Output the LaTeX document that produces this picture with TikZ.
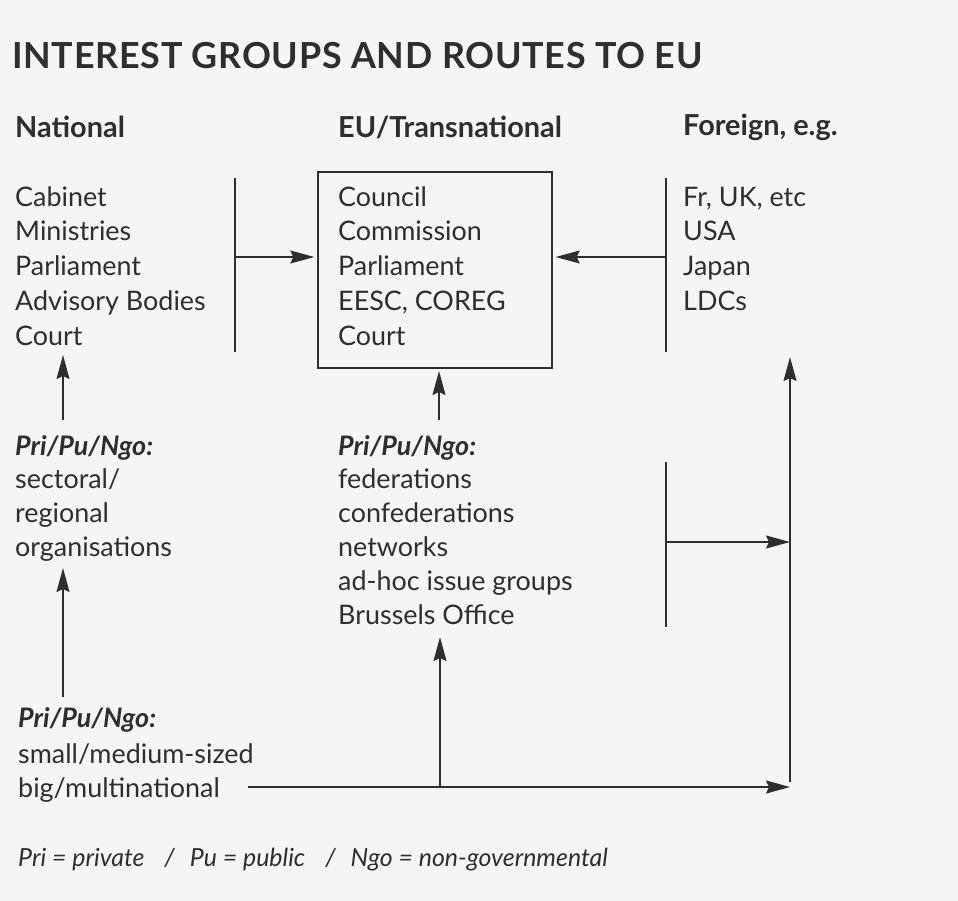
\documentclass[tikz,border=0pt]{standalone}
\usepackage{fontspec}
\setmainfont{Lato}
\usetikzlibrary{arrows.meta}
\definecolor{ink}{HTML}{2E2E2E}
\definecolor{paper}{HTML}{F5F5F3}
\tikzset{
  txt/.style={anchor=base west, inner sep=0pt, text=ink, font=\fontsize{27}{30}\selectfont},
  hdr/.style={txt, font=\fontsize{29}{32}\selectfont\bfseries},
  pri/.style={txt, font=\fontsize{27}{30}\selectfont\bfseries\itshape},
  note/.style={txt, font=\fontsize{25}{28}\selectfont\itshape},
  conn/.style={draw=ink, line width=1.4bp},
  arr/.style={conn, -{Stealth[length=24bp,width=13bp,inset=3bp]}},
  eubox/.style={draw=ink, line width=1.4bp, minimum width=234bp, minimum height=196bp, inner sep=0pt},
}
\begin{document}
\begin{tikzpicture}[x=1bp,y=-1bp]
\useasboundingbox[fill=paper] (0,0) rectangle (958,901);
% title and headers
\node[txt, font=\fontsize{36}{40}\selectfont\bfseries\addfontfeatures{LetterSpace=2}] (title) at (12,68) {INTEREST GROUPS AND ROUTES TO EU};
\node[hdr] (hnat) at (15,137) {National};
\node[hdr] (heu) at (338,137) {EU/Transnational};
\node[hdr] (hfor) at (683,135) {Foreign, e.g.};
% national column
\foreach \t [count=\i] in {Cabinet, Ministries, Parliament, Advisory Bodies, Court}
  \node[txt] (nat\i) at (15,{206+34.8*(\i-1)}) {\t};
% EU box
\node[eubox] (box) at (435,270) {};
\foreach \t [count=\i] in {Council, Commission, Parliament, {EESC, COREG}, Court}
  \node[txt] (eu\i) at (338,{206+34.8*(\i-1)}) {\t};
% foreign column
\foreach \t [count=\i] in {{Fr, UK, etc}, USA, Japan, LDCs}
  \node[txt] (for\i) at (683,{206+34.8*(\i-1)}) {\t};
% left lower group
\node[pri] (lpri) at (15,455) {Pri/Pu/Ngo:};
\foreach \t [count=\i] in {sectoral/, regional, organisations}
  \node[txt] (lg\i) at (15,{488+34*(\i-1)}) {\t};
% middle lower group
\node[pri] (mpri) at (338,455) {Pri/Pu/Ngo:};
\foreach \t [count=\i] in {federations, confederations, networks, ad-hoc issue groups, Brussels Office}
  \node[txt] (mg\i) at (338,{488+34*(\i-1)}) {\t};
% bottom group
\node[pri] (bpri) at (18,727) {Pri/Pu/Ngo:};
\node[txt] (bg1) at (18,763) {small/medium-sized};
\node[txt] (bg2) at (18,797) {big/multinational};
% footnote
\node[note] (fn) at (18,866) {Pri = private\hspace{20bp}/\hspace{15bp}Pu = public\hspace{20bp}/\hspace{15bp}Ngo = non-governmental};
% coordinates for connectors
\coordinate (lbT) at (235,178);
\coordinate (lbB) at (235,352);
\coordinate (lbM) at (235,257);
\coordinate (rbT) at (666,178);
\coordinate (rbB) at (666,352);
\coordinate (rbM) at (666,257);
\coordinate (a1s) at (63,420);
\coordinate (a1e) at (63,355);
\coordinate (a2s) at (439,420);
\coordinate (a2e) at (439,371);
\coordinate (a3s) at (63,697);
\coordinate (a3e) at (63,568);
\coordinate (hs) at (248,787);
\coordinate (he) at (790,787);
\coordinate (vs) at (440,787);
\coordinate (ve) at (440,637);
\coordinate (rvB) at (790,782);
\coordinate (rvT) at (790,357);
\coordinate (b2T) at (666,462);
\coordinate (b2B) at (666,627);
\coordinate (b2M) at (666,542);
% connectors
\draw[conn] (lbT) -- (lbB);
\draw[arr] (lbM) -- ([xshift=-3bp]box.west |- lbM);
\draw[conn] (rbT) -- (rbB);
\draw[arr] (rbM) -- ([xshift=3bp]box.east |- rbM);
\draw[arr] (a1s) -- (a1e);
\draw[arr] (a2s) -- (a2e);
\draw[arr] (a3s) -- (a3e);
\draw[arr] (hs) -- (he);
\draw[arr] (vs) -- (ve);
\draw[arr] (rvB) -- (rvT);
\draw[conn] (b2T) -- (b2B);
\draw[arr] (b2M) -- (rvB |- b2M);
\end{tikzpicture}
\end{document}
